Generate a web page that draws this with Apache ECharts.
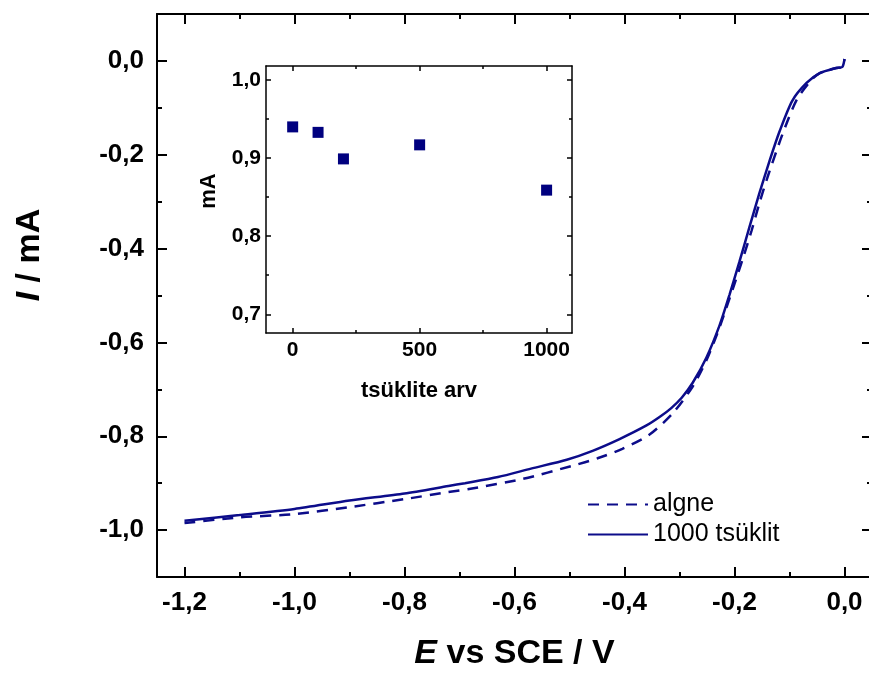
<!DOCTYPE html>
<html><head><meta charset="utf-8">
<script src="https://cdn.jsdelivr.net/npm/echarts@6/dist/echarts.min.js"></script>
<style>html,body{margin:0;padding:0;background:#fff}#c{width:869px;height:673px}</style>
</head><body><div id="c"></div>
<script>
// ---- data ----
const E_ALGNE = [-1.2, -1.1, -1.0, -0.9, -0.8, -0.72, -0.68, -0.585, -0.495, -0.449, -0.404, -0.355, -0.313, -0.276, -0.251, -0.231, -0.215, -0.2, -0.185, -0.169, -0.155, -0.14, -0.113, -0.087, -0.06, -0.045, -0.015, -0.004, 0.0];
const I_ALGNE = [-0.985, -0.973, -0.966, -0.951, -0.934, -0.919, -0.912, -0.891, -0.863, -0.847, -0.827, -0.797, -0.752, -0.694, -0.638, -0.580, -0.527, -0.475, -0.422, -0.362, -0.304, -0.248, -0.157, -0.083, -0.040, -0.026, -0.015, -0.013, 0.004];
const E_1000 = [-1.2, -1.1, -1.0, -0.9, -0.8, -0.72, -0.69, -0.63, -0.57, -0.505, -0.458, -0.409, -0.36, -0.335, -0.315, -0.296, -0.276, -0.251, -0.227, -0.209, -0.191, -0.173, -0.155, -0.136, -0.118, -0.095, -0.069, -0.045, -0.015, -0.004, 0.0];
const I_1000 = [-0.980, -0.968, -0.955, -0.937, -0.922, -0.906, -0.900, -0.887, -0.869, -0.850, -0.831, -0.806, -0.777, -0.758, -0.740, -0.718, -0.686, -0.632, -0.563, -0.498, -0.428, -0.355, -0.283, -0.212, -0.150, -0.085, -0.047, -0.026, -0.015, -0.013, 0.004];
const CYCLES = [0, 100, 200, 500, 1000];
const CURRENT = [0.940, 0.933, 0.899, 0.917, 0.859];

const MAIN_X_TICKS = [-1.2, -1.0, -0.8, -0.6, -0.4, -0.2, 0.0];
const MAIN_X_MINOR = [-1.1, -0.9, -0.7, -0.5, -0.3, -0.1];
const MAIN_Y_TICKS = [0.0, -0.2, -0.4, -0.6, -0.8, -1.0];
const MAIN_Y_MINOR = [-0.1, -0.3, -0.5, -0.7, -0.9];
const INSET_X_TICKS = [0, 500, 1000];
const INSET_X_MINOR = [250, 750];
const INSET_Y_TICKS = [0.7, 0.8, 0.9, 1.0];
const INSET_Y_MINOR = [0.75, 0.85, 0.95];

const SERIES_NAMES = ['algne', '1000 tsüklit'];
const X_TITLE = '{i|E} vs SCE / V';
const Y_TITLE = '{i|I} / mA';
const INSET_X_TITLE = 'tsüklite arv';
const INSET_Y_TITLE = 'mA';

// ---- chart ----
const FONT = '"Liberation Sans", Arial, sans-serif';
const LINE_COLOR = '#0c0c8a';
const fmt1 = v => v.toFixed(1).replace('.', ',');
const zip = (a, b) => a.map((v, i) => [v, b[i]]);

function axis(gridIndex, position, min, max, ticks, len, lw, showLine, label) {
  return {
    type: 'value', gridIndex, position, min, max,
    axisLine: { show: showLine, onZero: false, lineStyle: { color: '#000', width: lw } },
    axisTick: { show: true, inside: true, length: len, customValues: ticks, lineStyle: { color: '#000', width: lw } },
    axisLabel: label ? Object.assign({ show: true, customValues: ticks }, label) : { show: false },
    splitLine: { show: false }
  };
}

const mainTickLabel = { fontFamily: FONT, fontWeight: 'bold', fontSize: 26, color: '#000', margin: 13, formatter: fmt1 };
const insetTickLabelBase = { fontFamily: FONT, fontWeight: 'bold', fontSize: 21, color: '#000' };

const xMain = axis(0, 'bottom', -1.25, 0.05, MAIN_X_TICKS, 10, 2, true, mainTickLabel);
Object.assign(xMain, {
  name: X_TITLE, nameLocation: 'middle', nameGap: 60,
  nameTextStyle: { fontFamily: FONT, fontWeight: 'bold', fontSize: 34, color: '#000',
    rich: { i: { fontFamily: FONT, fontWeight: 'bold', fontStyle: 'italic', fontSize: 34, color: '#000' } } }
});
const xInset = axis(1, 'bottom', -105, 1100, INSET_X_TICKS, 5, 1.5, true,
  Object.assign({ margin: 7, formatter: v => String(v) }, insetTickLabelBase));
Object.assign(xInset, {
  name: INSET_X_TITLE, nameLocation: 'middle', nameGap: 47,
  nameTextStyle: { fontFamily: FONT, fontWeight: 'bold', fontSize: 22, color: '#000' }
});
const yInset = axis(1, 'left', 0.676, 1.018, INSET_Y_TICKS, 5, 1.5, true,
  Object.assign({ margin: 5, formatter: fmt1 }, insetTickLabelBase));

const option = {
  animation: false,
  backgroundColor: '#fff',
  grid: [
    { left: 157, top: 14, width: 715, height: 563, containLabel: false, outerBoundsMode: 'none' },
    { left: 266, top: 66, width: 306, height: 267, containLabel: false, outerBoundsMode: 'none',
      show: true, backgroundColor: '#fff', borderWidth: 0 }
  ],
  xAxis: [
    xMain,
    axis(0, 'bottom', -1.25, 0.05, MAIN_X_MINOR, 5, 2, false, null),
    axis(0, 'top', -1.25, 0.05, MAIN_X_TICKS, 10, 2, true, null),
    axis(0, 'top', -1.25, 0.05, MAIN_X_MINOR, 5, 2, false, null),
    xInset,
    axis(1, 'bottom', -105, 1100, INSET_X_MINOR, 3, 1.5, false, null),
    axis(1, 'top', -105, 1100, INSET_X_TICKS, 5, 1.5, true, null),
    axis(1, 'top', -105, 1100, INSET_X_MINOR, 3, 1.5, false, null)
  ],
  yAxis: [
    axis(0, 'left', -1.1, 0.1, MAIN_Y_TICKS, 10, 2, true, mainTickLabel),
    axis(0, 'left', -1.1, 0.1, MAIN_Y_MINOR, 5, 2, false, null),
    axis(0, 'right', -1.1, 0.1, MAIN_Y_TICKS, 10, 2, true, null),
    axis(0, 'right', -1.1, 0.1, MAIN_Y_MINOR, 5, 2, false, null),
    yInset,
    axis(1, 'left', 0.676, 1.018, INSET_Y_MINOR, 3, 1.5, false, null),
    axis(1, 'right', 0.676, 1.018, INSET_Y_TICKS, 5, 1.5, true, null),
    axis(1, 'right', 0.676, 1.018, INSET_Y_MINOR, 3, 1.5, false, null)
  ],
  legend: {
    orient: 'vertical', left: 582, top: 487, itemWidth: 60, itemHeight: 14, itemGap: 5,
    data: SERIES_NAMES,
    itemStyle: { opacity: 0 },
    textStyle: { fontFamily: FONT, fontSize: 25, color: '#000' }
  },
  graphic: [{
    type: 'text', x: 30, y: 255, rotation: Math.PI / 2,
    style: {
      text: Y_TITLE, align: 'center', verticalAlign: 'middle', fill: '#000',
      fontFamily: FONT, fontWeight: 'bold', fontSize: 34,
      rich: { i: { fontFamily: FONT, fontWeight: 'bold', fontStyle: 'italic', fontSize: 34, fill: '#000' } }
    }
  }, {
    type: 'text', x: 209, y: 191, rotation: Math.PI / 2,
    style: {
      text: INSET_Y_TITLE, align: 'center', verticalAlign: 'middle', fill: '#000',
      fontFamily: FONT, fontWeight: 'bold', fontSize: 22
    }
  }],
  series: [
    { name: SERIES_NAMES[0], type: 'line', xAxisIndex: 0, yAxisIndex: 0, data: zip(E_ALGNE, I_ALGNE),
      symbol: 'none', smooth: 0.25,
      lineStyle: { color: LINE_COLOR, width: 2.5, type: [11, 8] }, itemStyle: { color: LINE_COLOR } },
    { name: SERIES_NAMES[1], type: 'line', xAxisIndex: 0, yAxisIndex: 0, data: zip(E_1000, I_1000),
      symbol: 'none', smooth: 0.25,
      lineStyle: { color: LINE_COLOR, width: 2.5 }, itemStyle: { color: LINE_COLOR } },
    { name: 'inset', type: 'scatter', xAxisIndex: 4, yAxisIndex: 4, data: zip(CYCLES, CURRENT),
      symbol: 'rect', symbolSize: 11, itemStyle: { color: '#00007f', opacity: 1 } }
  ]
};
const chart = echarts.init(document.getElementById('c'));
chart.setOption(option);
</script>
</body></html>
